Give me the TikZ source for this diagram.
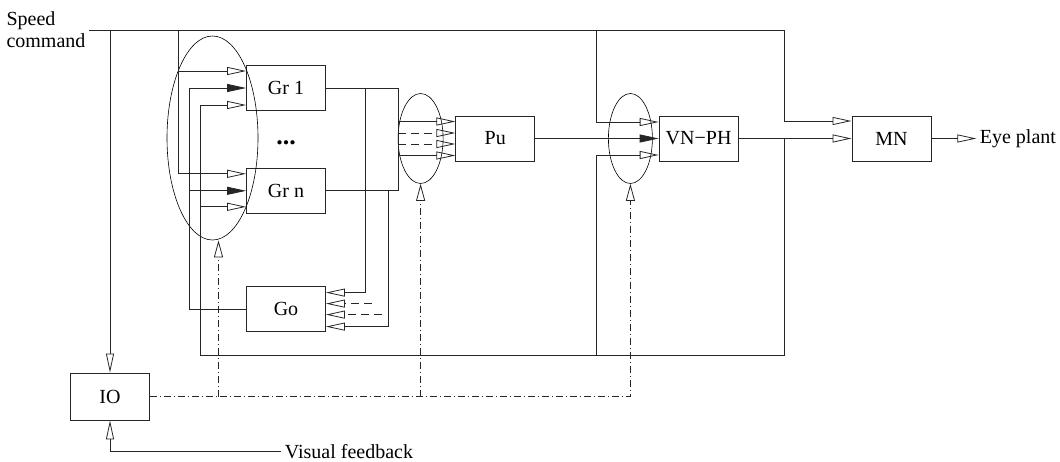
\documentclass[tikz,border=0pt]{standalone}
\usepackage{fontspec}
\setmainfont{Liberation Serif}
\usetikzlibrary{arrows.meta,calc,positioning,shapes.geometric}
\tikzset{
  wire/.style={line width=0.8pt, draw=black!85},
  open flow/.style={wire, -{Triangle[open, length=19pt, width=8pt]}},
  solid flow/.style={wire, -{Triangle[length=19pt, width=8pt]}},
  stub flow/.style={open flow, dash pattern=on 8pt off 5pt},
  vision flow/.style={wire, dash pattern=on 7pt off 3pt on 1pt off 3pt,
    -{Triangle[open, length=17pt, width=9pt]}},
  block/.style={draw=black!85, line width=0.8pt, minimum width=79pt,
    minimum height=45pt, inner sep=0pt},
  ring/.style={ellipse, draw, line width=0.6pt, inner sep=0pt},
  dots label/.style={font=\fontsize{26}{26}\selectfont\bfseries}
}
\begin{document}
\begin{tikzpicture}[x=1pt, y=-1pt, every node/.style={font=\fontsize{20}{22}\selectfont}]
  \useasboundingbox (0,0) rectangle (1060,461);
  \node[anchor=north west, align=left] (speed) at (3,8.5) {Speed\\command};
  \node[block] (gr1) at (286,88) {Gr 1};
  \node[block, below=57pt of gr1] (grn) {Gr n};
  \node[block, below=72.5pt of grn] (go) {Go};
  \node[dots label, yshift=-3pt] (dots) at ($(gr1)!0.5!(grn)$) {...};
  \node[block, right=129.5pt of gr1, yshift=-50.5pt] (pu) {Pu};
  \node[block, right=123.5pt of pu] (vnph) {VN−PH};
  \node[block, right=113pt of vnph] (mn) {MN};
  \node[block, minimum height=47pt] (io) at (110,396.5) {IO};
  \node[right=45pt of mn] (eye) {Eye plant};
  \node[inner ysep=1pt] (vis) at (349,451.5) {Visual feedback};
  \node[ring, minimum width=91pt, minimum height=204pt] (ringgr) at (212.5,138) {};
  \node[ring, minimum width=45pt, minimum height=90pt, left=12pt of pu] (ringpu) {};
  \node[ring, minimum width=44pt, minimum height=90pt, left=6pt of vnph] (ringvn) {};
  \coordinate (g1a) at ([yshift=17pt]gr1.west);
  \coordinate (g1c) at ([yshift=-17pt]gr1.west);
  \coordinate (gna) at ([yshift=17pt]grn.west);
  \coordinate (gnc) at ([yshift=-16pt]grn.west);
  \coordinate (busA) at ([xshift=-67.5pt]gr1.west);
  \coordinate (busB) at ([xshift=-56.5pt]gr1.west);
  \coordinate (busC) at ([xshift=-45.5pt]gr1.west);
  \coordinate (col) at ([xshift=72.5pt]gr1.east);
  \coordinate (drop1) at ([xshift=39.5pt]gr1.east);
  \coordinate (drop2) at ([xshift=62.5pt]grn.east);
  \coordinate (pua) at ([yshift=17pt]pu.west);
  \coordinate (pub) at ([yshift=5.5pt]pu.west);
  \coordinate (puc) at ([yshift=-5.5pt]pu.west);
  \coordinate (pud) at ([yshift=-17pt]pu.west);
  \coordinate (goa) at ([yshift=16.5pt]go.east);
  \coordinate (gob) at ([yshift=5.5pt]go.east);
  \coordinate (goc) at ([yshift=-5.5pt]go.east);
  \coordinate (god) at ([yshift=-17.5pt]go.east);
  \coordinate (stubb) at ([xshift=46pt]gob);
  \coordinate (stubc) at ([xshift=56pt]goc);
  \coordinate (vna) at ([yshift=16.5pt]vnph.west);
  \coordinate (vnc) at ([yshift=-16.5pt]vnph.west);
  \coordinate (mna) at ([yshift=17.5pt]mn.west);
  \coordinate (tapvn) at ([xshift=-62pt]vnph.west);
  \coordinate (tapmn) at ([xshift=46pt]vnph.east);
  \coordinate (floor) at ([yshift=-23pt]go.south);
  \coordinate (tapgr) at ([xshift=6pt]ringgr.south);
  \draw[open flow] (speed.east) -| (tapmn |- mna) -- (mna);
  \draw[open flow] (io.north |- speed.east) -- (io.north);
  \draw[open flow] (busA |- speed.east) |- (g1a);
  \draw[open flow] (busA |- speed.east) |- (gna);
  \draw[open flow] (tapvn |- speed.east) |- (vna);
  \draw[open flow] (vnph.east) -- (mn.west);
  \draw[open flow] (tapmn) |- (busC |- floor) -- (busC |- g1c) -- (g1c);
  \draw[open flow] (busC |- gnc) -- (gnc);
  \draw[open flow] (tapvn |- floor) |- (vnc);
  \draw[solid flow] (go.west) -| (busB |- gr1.west) -- (gr1.west);
  \draw[solid flow] (busB |- grn.west) -- (grn.west);
  \draw[wire] (gr1.east) -| (col |- grn.east) -- (grn.east);
  \draw[open flow] (col |- pua) -- (pua);
  \draw[stub flow] (col |- pub) -- (pub);
  \draw[stub flow] (col |- puc) -- (puc);
  \draw[open flow] (col |- pud) -- (pud);
  \draw[open flow] (drop1) |- (goa);
  \draw[stub flow] (stubb) -- (gob);
  \draw[stub flow] (stubc) -- (goc);
  \draw[open flow] (drop2) |- (god);
  \draw[solid flow] (pu.east) -- (vnph.west);
  \draw[open flow] (mn.east) -- (eye.west);
  \draw[open flow] (vis.west) -| (io.south);
  \draw[vision flow] (io.east) -| (ringvn.south);
  \draw[vision flow] (tapgr |- io.east) -- (tapgr);
  \draw[vision flow] (ringpu.south |- io.east) -- (ringpu.south);
\end{tikzpicture}
\end{document}
